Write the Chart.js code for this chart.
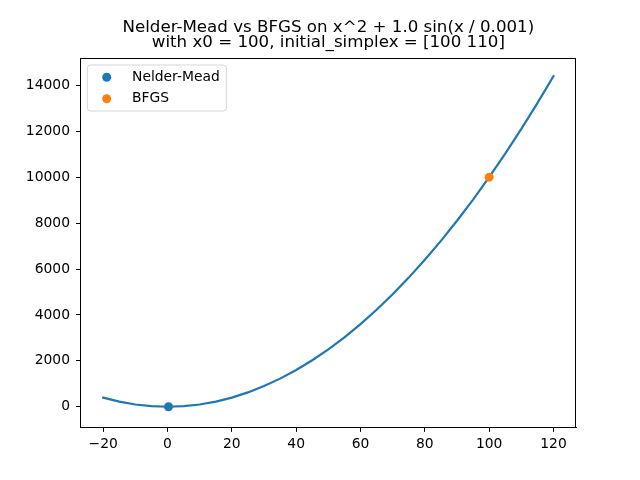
<!DOCTYPE html>
<html>
<head>
<meta charset="utf-8">
<script src="https://cdn.jsdelivr.net/npm/chart.js@4.4.1/dist/chart.umd.min.js"></script>
<style>
  body { margin: 0; background: #fff; }
  #wrap { width: 640px; height: 480px; }
</style>
</head>
<body>
<div id="wrap"><canvas id="chartOpt" width="640" height="480"></canvas></div>
<script>
// curve values
const curveX = [-20, -15, -10, -5, 0, 5, 10, 15, 20, 25, 30, 35, 40, 45, 50, 55, 60,
    65, 70, 75, 80, 85, 90, 95, 100, 105, 110, 115, 120];
const curveY = [400, 225, 100, 25, 0, 25, 100, 225, 400, 625, 900, 1225, 1600, 2025,
    2500, 3025, 3600, 4225, 4900, 5625, 6400, 7225, 8100, 9025, 10000, 11025, 12100,
    13225, 14400];

const nelderX = [0.3];
const nelderY = [0];
const bfgsX = [100];
const bfgsY = [10000];

const xTicks = [-20, 0, 20, 40, 60, 80, 100, 120];
const yTicks = [0, 2000, 4000, 6000, 8000, 10000, 12000, 14000];

const titleLines = ['Nelder-Mead vs BFGS on x^2 + 1.0 sin(x / 0.001)',
    'with x0 = 100, initial_simplex = [100 110]'];

const BLUE = '#1f77b4';
const ORANGE = '#ff7f0e';
const FONT = "'DejaVu Sans', sans-serif";
const TICK_SIZE = 13.89;
const DOT = 4.5;

function toPoints(xs, ys) {
    return xs.map((x, i) => ({ x: x, y: ys[i] }));
}

function tickText(v) {
    return v < 0 ? '\u2212' + Math.abs(v) : String(v);
}

// title centred over the axes, like matplotlib
const axesTitle = {
    id: 'axesTitle',
    afterDraw(chart) {
        const ctx = chart.ctx;
        const a = chart.chartArea;
        ctx.save();
        ctx.font = '16.67px ' + FONT;
        ctx.fillStyle = '#000';
        ctx.textAlign = 'center';
        ctx.textBaseline = 'alphabetic';
        const cx = (a.left + a.right) / 2;
        titleLines.forEach((t, i) => ctx.fillText(t, cx, 31.7 + i * 15));
        ctx.restore();
    }
};

// matplotlib style legend box in the upper left corner
const legendBox = {
    id: 'legendBox',
    afterDraw(chart) {
        const ctx = chart.ctx;
        const area = chart.chartArea;
        const bx = area.left + 6.6, by = area.top + 7, bw = 139, bh = 46, r = 3;
        ctx.save();
        ctx.beginPath();
        ctx.moveTo(bx + r, by);
        ctx.arcTo(bx + bw, by, bx + bw, by + bh, r);
        ctx.arcTo(bx + bw, by + bh, bx, by + bh, r);
        ctx.arcTo(bx, by + bh, bx, by, r);
        ctx.arcTo(bx, by, bx + bw, by, r);
        ctx.closePath();
        ctx.fillStyle = 'rgba(255,255,255,0.8)';
        ctx.fill();
        ctx.strokeStyle = 'rgba(204,204,204,0.8)';
        ctx.lineWidth = 1;
        ctx.stroke();

        const items = chart.data.datasets.filter(d => d.inLegend);
        ctx.font = TICK_SIZE + 'px ' + FONT;
        ctx.textBaseline = 'middle';
        ctx.textAlign = 'left';
        items.forEach((d, i) => {
            const cy = by + 12.3 + i * 21.4;
            ctx.beginPath();
            ctx.arc(bx + 19.4, cy, DOT, 0, Math.PI * 2);
            ctx.fillStyle = d.backgroundColor;
            ctx.fill();
            ctx.fillStyle = '#000';
            ctx.fillText(d.label, bx + 44.7, cy);
        });
        ctx.restore();
    }
};

// right and top frame lines like matplotlib spines
const frame = {
    id: 'frame',
    afterDraw(chart) {
        const a = chart.chartArea;
        const ctx = chart.ctx;
        ctx.save();
        ctx.strokeStyle = '#000';
        ctx.lineWidth = 1;
        ctx.beginPath();
        ctx.moveTo(a.left, a.top + 0.5);
        ctx.lineTo(a.right, a.top + 0.5);
        ctx.moveTo(a.right - 0.5, a.top);
        ctx.lineTo(a.right - 0.5, a.bottom);
        ctx.stroke();
        ctx.restore();
    }
};

const data = {
    datasets: [
        {
            label: 'curve',
            data: toPoints(curveX, curveY),
            showLine: true,
            borderColor: BLUE,
            borderWidth: 2.2,
            borderCapStyle: 'square',
            pointRadius: 0,
            fill: false,
            order: 3
        },
        {
            label: 'Nelder-Mead',
            data: toPoints(nelderX, nelderY),
            backgroundColor: BLUE,
            borderWidth: 0,
            pointRadius: DOT,
            inLegend: true,
            order: 2
        },
        {
            label: 'BFGS',
            data: toPoints(bfgsX, bfgsY),
            backgroundColor: ORANGE,
            borderWidth: 0,
            pointRadius: DOT,
            inLegend: true,
            order: 1
        }
    ]
};

const config = {
    type: 'scatter',
    data: data,
    plugins: [frame, axesTitle, legendBox],
    options: {
        responsive: false,
        animation: false,
        layout: { padding: { left: 0, right: 64, top: 58, bottom: 0 } },
        plugins: {
            legend: { display: false },
            tooltip: { enabled: false },
            title: { display: false }
        },
        scales: {
            x: {
                type: 'linear',
                min: -27,
                max: 127,
                afterBuildTicks: s => { s.ticks = xTicks.map(v => ({ value: v })); },
                afterFit: s => { s.height = 52.8; },
                grid: { drawOnChartArea: false, drawTicks: true, tickLength: 4.7, color: '#000' },
                border: { display: true, color: '#000', width: 1 },
                ticks: {
                    color: '#000', padding: 4, maxRotation: 0,
                    font: { family: FONT, size: TICK_SIZE },
                    callback: v => tickText(v)
                }
            },
            y: {
                type: 'linear',
                min: -890,
                max: 15190,
                afterBuildTicks: s => { s.ticks = yTicks.map(v => ({ value: v })); },
                afterFit: s => { s.width = 80.7; },
                grid: { drawOnChartArea: false, drawTicks: true, tickLength: 4.7, color: '#000' },
                border: { display: true, color: '#000', width: 1 },
                ticks: {
                    color: '#000', padding: 6,
                    font: { family: FONT, size: TICK_SIZE },
                    callback: v => tickText(v)
                }
            }
        }
    }
};

new Chart(document.getElementById('chartOpt'), config);
</script>
</body>
</html>
